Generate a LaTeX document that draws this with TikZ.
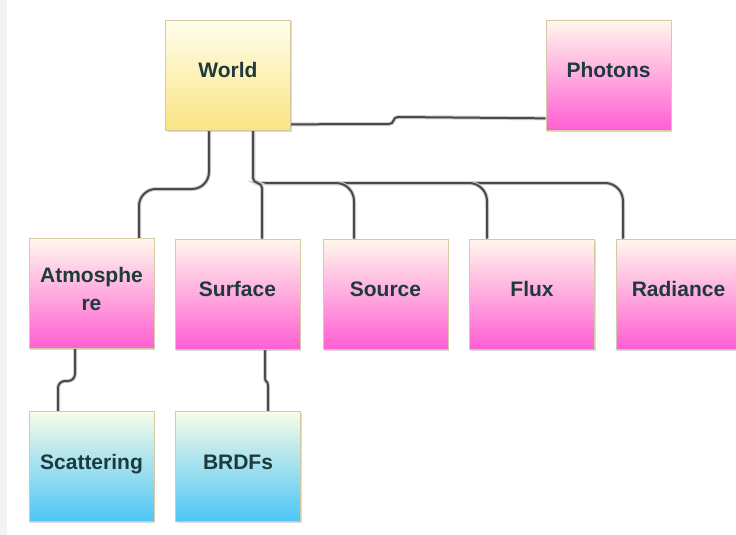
\documentclass[tikz,border=0pt]{standalone}
\usepackage{fontspec}
\setmainfont{Liberation Sans}
\usetikzlibrary{shadows,backgrounds}
\definecolor{noteborder}{HTML}{D4CBA6}
\definecolor{yw1}{HTML}{FFFEEC}
\definecolor{yw2}{HTML}{FAE483}
\definecolor{pk1}{HTML}{FFF8EC}
\definecolor{pk2}{HTML}{FFC6EC}
\definecolor{pk3}{HTML}{FF5ED2}
\definecolor{cy1}{HTML}{F8FBE8}
\definecolor{cy2}{HTML}{C6EEF8}
\definecolor{cy3}{HTML}{4CC6F6}
\definecolor{txt}{HTML}{1F3A3C}
\definecolor{lineC}{HTML}{4A4A4A}
\begin{document}
\begin{tikzpicture}[x=1pt,y=-1pt,
  note/.style={minimum width=125pt, minimum height=110pt, inner sep=0pt,
    draw=noteborder, line width=0.7pt,
    drop shadow={shadow xshift=1pt, shadow yshift=-1.5pt, opacity=0.25, fill=black!60}},
  yellownote/.style={note, top color=yw1, bottom color=yw2},
  pinknote/.style={note, top color=pk1, middle color=pk2, bottom color=pk3},
  cyannote/.style={note, top color=cy1, middle color=cy2, bottom color=cy3},
  lbl/.style={font=\bfseries\fontsize{21}{28}\selectfont, text=txt, inner sep=0pt,
    text height=15pt, text depth=0pt},
  lblb/.style={font=\bfseries\fontsize{21}{28}\selectfont, text=txt, inner sep=0pt},
  conn/.style={draw=lineC, line width=2pt, line join=round,
    preaction={draw=black!18, line width=4pt}}
]
\useasboundingbox (0,0) rectangle (736,535);

\node[yellownote] (world) at (228,75) {};
\node[pinknote] (photons) at (608.5,75) {};
\node[pinknote] (atm) at (91.5,293.5) {};
\node[pinknote] (surface) at (237.5,294) {};
\node[pinknote] (source) at (385.5,294) {};
\node[pinknote] (flux) at (532,294) {};
\node[pinknote] (radiance) at (678.5,294) {};
\node[cyannote] (scat) at (91.5,466.5) {};
\node[cyannote] (brdf) at (238,466.5) {};

\begin{scope}[on background layer]
\fill[black!5] (0,0) rectangle (7,535);
\draw[conn] ([yshift=6pt]world.south east) -- (389,124)
  .. controls (395,124) and (392,117) .. (398,117) -- ([yshift=12pt]photons.south west);
\draw[conn, rounded corners=17pt] ([xshift=-19pt]world.south) -- (209,189) -- (139,189) -- ([xshift=47.5pt]atm.north);
\draw[conn] ([xshift=25pt]world.south) [rounded corners=6pt] -- (253,183) [rounded corners=18pt] -- (623,183) -- ([xshift=-55.5pt]radiance.north);
\draw[conn] ([xshift=25pt]world.south) [rounded corners=6pt] -- (253,183) [rounded corners=18pt] -- (487,183) -- ([xshift=-45pt]flux.north);
\draw[conn] ([xshift=25pt]world.south) [rounded corners=6pt] -- (253,183) [rounded corners=18pt] -- (354,183) -- ([xshift=-31.5pt]source.north);
\draw[conn] ([xshift=25pt]world.south) [rounded corners=5pt] -- (253,183) -- (262,183) -- ([xshift=24.5pt]surface.north);
\draw[conn, rounded corners=7pt] ([xshift=-16.5pt]atm.south) -- (75,381) -- (58,381) -- ([xshift=-33.5pt]scat.north);
\draw[conn] ([xshift=27.5pt]surface.south) -- (265,378)
  .. controls (265,383) and (268,380) .. (268,386) -- ([xshift=30pt]brdf.north);
\end{scope}

\node[lbl] (worldT) at ([yshift=5pt]world.center) {World};
\node[lbl] (photonsT) at ([yshift=5pt]photons.center) {Photons};
\node[lblb, anchor=base] (atmT1) at ([yshift=11.5pt]atm.center) {Atmosphe};
\node[lblb, anchor=base] (atmT2) at ([yshift=-16.5pt]atm.center) {re};
\node[lbl] (surfaceT) at ([yshift=5pt]surface.center) {Surface};
\node[lbl] (sourceT) at ([yshift=5pt]source.center) {Source};
\node[lbl] (fluxT) at ([yshift=5pt]flux.center) {Flux};
\node[lbl] (radianceT) at ([yshift=5pt]radiance.center) {Radiance};
\node[lbl] (scatT) at ([yshift=5pt]scat.center) {Scattering};
\node[lbl] (brdfT) at ([yshift=5pt]brdf.center) {BRDFs};
\end{tikzpicture}
\end{document}
